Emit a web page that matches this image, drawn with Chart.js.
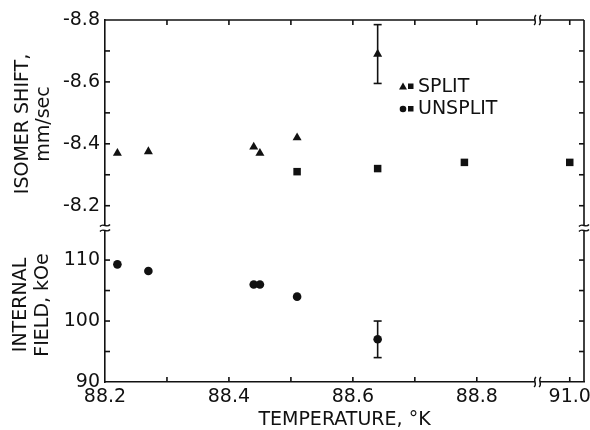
<!DOCTYPE html>
<html><head><meta charset="utf-8">
<script src="https://cdn.jsdelivr.net/npm/chart.js@4/dist/chart.umd.min.js"></script>
<style>html,body{margin:0;padding:0;background:#fff;}#wrap{width:590px;height:430px;}</style>
</head><body><div id="wrap"><canvas id="c" width="590" height="430"></canvas></div>
<script>
// ---- data ----
const splitTemps   = [88.22, 88.27, 88.44, 88.45, 88.51, 88.64];
const splitShift   = [-8.37, -8.375, -8.39, -8.37, -8.42, -8.69];
const splitShiftErr = [0, 0, 0, 0, 0, 0.095];
const unsplitTemps = [88.51, 88.64, 88.78, 91.0];
const unsplitShift = [-8.31, -8.32, -8.34, -8.34];
const fieldTemps   = [88.22, 88.27, 88.44, 88.45, 88.51, 88.64];
const fieldValues  = [109.3, 108.2, 106.0, 106.0, 104.0, 97.0];
const fieldErr     = [0, 0, 0, 0, 0, 3];
const xTickValues  = [88.2, 88.3, 88.4, 88.5, 88.6, 88.7, 88.8, 91.0];
const xTickLabelled = [88.2, 88.4, 88.6, 88.8, 91.0];
const shiftTicks   = [-8.8, -8.7, -8.6, -8.5, -8.4, -8.3, -8.2];
const shiftLabelled = [-8.8, -8.6, -8.4, -8.2];
const fieldTicks   = [90, 95, 100, 105, 110];
const fieldLabelled = [90, 100, 110];
const legendLabels = ['SPLIT', 'UNSPLIT'];

// broken temperature axis: values beyond the break are shifted next to 88.8
const BREAK_T = 89.0, FAR_T = 91.0, FAR_AXIS = 88.95, BREAK_AXIS = 88.898;
function axisX(t){ return t > BREAK_T ? FAR_AXIS + (t - FAR_T) : t; }
const near = (a,b) => Math.abs(a-b) < 1e-6;

const INK = '#111';
const FONT = {family: '"DejaVu Sans", sans-serif', size: 19};
Chart.defaults.color = INK;
Chart.defaults.font.family = FONT.family;

function pts(xs, ys){ return xs.map((t,i) => ({x: axisX(t), y: ys[i]})); }

const deco = {
  id: 'deco',
  afterDatasetsDraw(chart){
    const ctx = chart.ctx, a = chart.chartArea;
    const x = chart.scales.x, ys = chart.scales.yShift, yf = chart.scales.yField;
    ctx.save();
    ctx.strokeStyle = INK; ctx.fillStyle = INK; ctx.lineWidth = 1.6;
    const line = (x1,y1,x2,y2) => { ctx.beginPath(); ctx.moveTo(x1,y1); ctx.lineTo(x2,y2); ctx.stroke(); };
    // error bars
    const err = (xs, vs, es, sc) => {
      xs.forEach((t,i) => {
        if (!es[i]) return;
        const px = x.getPixelForValue(axisX(t));
        const p1 = sc.getPixelForValue(vs[i] - es[i]);
        const p2 = sc.getPixelForValue(vs[i] + es[i]);
        line(px, p1, px, p2);
        line(px-4, p1, px+4, p1);
        line(px-4, p2, px+4, p2);
      });
    };
    err(splitTemps, splitShift, splitShiftErr, ys);
    err(fieldTemps, fieldValues, fieldErr, yf);
    // frame: top and right
    line(a.left, a.top, a.right, a.top);
    line(a.right, a.top, a.right, a.bottom);
    // inward ticks
    const TL = 5;
    xTickValues.forEach(t => {
      const px = x.getPixelForValue(axisX(t));
      if (px - a.left < 2) return;
      line(px, a.bottom, px, a.bottom - TL);
      line(px, a.top, px, a.top + TL);
    });
    shiftTicks.forEach(v => {
      const py = ys.getPixelForValue(v);
      if (py - a.top < 2) return;
      line(a.left, py, a.left + TL, py);
      line(a.right, py, a.right - TL, py);
    });
    fieldTicks.forEach(v => {
      const py = yf.getPixelForValue(v);
      if (a.bottom - py < 2) return;
      line(a.left, py, a.left + TL, py);
      line(a.right, py, a.right - TL, py);
    });
    // breaks
    const by = ys.bottom;
    ctx.lineWidth = 1.4;
    [a.left, a.right].forEach(ax => {
      ctx.fillStyle = '#fff'; ctx.fillRect(ax - 4, by - 2, 8, 4);
      [-2.5, 2.5].forEach(d => {
        ctx.beginPath();
        ctx.moveTo(ax - 5, by + d + 1);
        ctx.bezierCurveTo(ax - 2, by + d - 3, ax + 2, by + d + 3, ax + 5, by + d - 1);
        ctx.stroke();
      });
    });
    const bx = x.getPixelForValue(BREAK_AXIS);
    [a.top, a.bottom].forEach(ay => {
      ctx.fillStyle = '#fff'; ctx.fillRect(bx - 2.5, ay - 4, 5, 8);
      [-2.5, 2.5].forEach(d => {
        ctx.beginPath();
        ctx.moveTo(bx + d + 1, ay - 5);
        ctx.bezierCurveTo(bx + d - 3, ay - 2, bx + d + 3, ay + 2, bx + d - 1, ay + 5);
        ctx.stroke();
      });
    });
    // legend
    ctx.fillStyle = INK;
    const lx = 403, ly1 = 87, ly2 = 109;
    ctx.beginPath(); ctx.moveTo(lx, ly1 - 4.5); ctx.lineTo(lx + 4, ly1 + 2.5); ctx.lineTo(lx - 4, ly1 + 2.5); ctx.closePath(); ctx.fill();
    ctx.beginPath(); ctx.arc(lx, ly2, 3.3, 0, Math.PI*2); ctx.fill();
    ctx.fillRect(lx + 5, ly1 - 3.5, 5.5, 5.5);
    ctx.fillRect(lx + 5, ly2 - 3, 5.5, 5.5);
    ctx.font = FONT.size + 'px ' + FONT.family;
    ctx.textBaseline = 'middle'; ctx.textAlign = 'left';
    ctx.fillText(legendLabels[0], lx + 15, ly1);
    ctx.fillText(legendLabels[1], lx + 15, ly2);
    ctx.restore();
  }
};

const noPad = s => { s.paddingLeft = 0; s.paddingRight = 0; s.paddingTop = 0; s.paddingBottom = 0; };

new Chart(document.getElementById('c'), {
  type: 'scatter',
  data: {
    datasets: [
      {label: 'SPLIT', data: pts(splitTemps, splitShift), yAxisID: 'yShift',
       pointStyle: 'triangle', pointRadius: 5.2, backgroundColor: INK, borderColor: INK, borderWidth: 0},
      {label: 'UNSPLIT', data: pts(unsplitTemps, unsplitShift), yAxisID: 'yShift',
       pointStyle: 'rect', pointRadius: 5.3, backgroundColor: INK, borderColor: INK, borderWidth: 0},
      {label: 'INTERNAL FIELD', data: pts(fieldTemps, fieldValues), yAxisID: 'yField',
       pointStyle: 'circle', pointRadius: 4.3, backgroundColor: INK, borderColor: INK, borderWidth: 0}
    ]
  },
  options: {
    responsive: false, animation: false, events: [],
    layout: {padding: {top: 20, right: 6, left: 0, bottom: 0}},
    plugins: {legend: {display: false}, tooltip: {enabled: false}},
    scales: {
      x: {
        type: 'linear', position: 'bottom', min: 88.2, max: 88.973,
        afterBuildTicks: s => { s.ticks = xTickValues.map(t => ({value: axisX(t)})); },
        ticks: {autoSkip: false, maxRotation: 0, padding: 4, color: INK, font: FONT,
          callback: v => { const t = xTickValues.find(t => near(axisX(t), v));
            return (t !== undefined && xTickLabelled.some(l => near(l, t))) ? t.toFixed(1) : ''; }},
        grid: {display: false, drawTicks: false},
        border: {display: true, color: INK, width: 1.6},
        title: {display: true, text: 'TEMPERATURE, °K', color: INK, font: FONT, padding: {top: 0, bottom: -1}},
        afterFit: s => { s.height = 48; noPad(s); }
      },
      yField: {
        type: 'linear', position: 'left', stack: 'y', stackWeight: 154, weight: 0,
        min: 90, max: 115.26,
        afterBuildTicks: s => { s.ticks = fieldTicks.map(v => ({value: v})); },
        ticks: {autoSkip: false, padding: 5, color: INK, font: FONT,
          callback: v => fieldLabelled.some(l => near(l, v)) ? String(v) : ''},
        grid: {display: false, drawTicks: false},
        border: {display: true, color: INK, width: 1.6},
        title: {display: true, text: ['INTERNAL', 'FIELD, kOe'], color: INK,
          font: {family: FONT.family, size: 19, lineHeight: 1.15}, padding: {top: 10, bottom: 0}},
        afterFit: s => { s.width = 105; noPad(s); }
      },
      yShift: {
        type: 'linear', position: 'left', stack: 'y', stackWeight: 208, weight: 1,
        reverse: true, min: -8.8, max: -8.128,
        afterBuildTicks: s => { s.ticks = shiftTicks.map(v => ({value: v})); },
        ticks: {autoSkip: false, padding: 5, color: INK, font: FONT,
          callback: v => shiftLabelled.some(l => near(l, v)) ? v.toFixed(1) : ''},
        grid: {display: false, drawTicks: false},
        border: {display: true, color: INK, width: 1.6},
        title: {display: true, text: ['ISOMER SHIFT,', 'mm/sec'], color: INK,
          font: {family: FONT.family, size: 19, lineHeight: 1.1}, padding: {top: 13, bottom: 0}},
        afterFit: s => { s.width = 105; noPad(s); }
      }
    }
  },
  plugins: [deco]
});
</script></body></html>
